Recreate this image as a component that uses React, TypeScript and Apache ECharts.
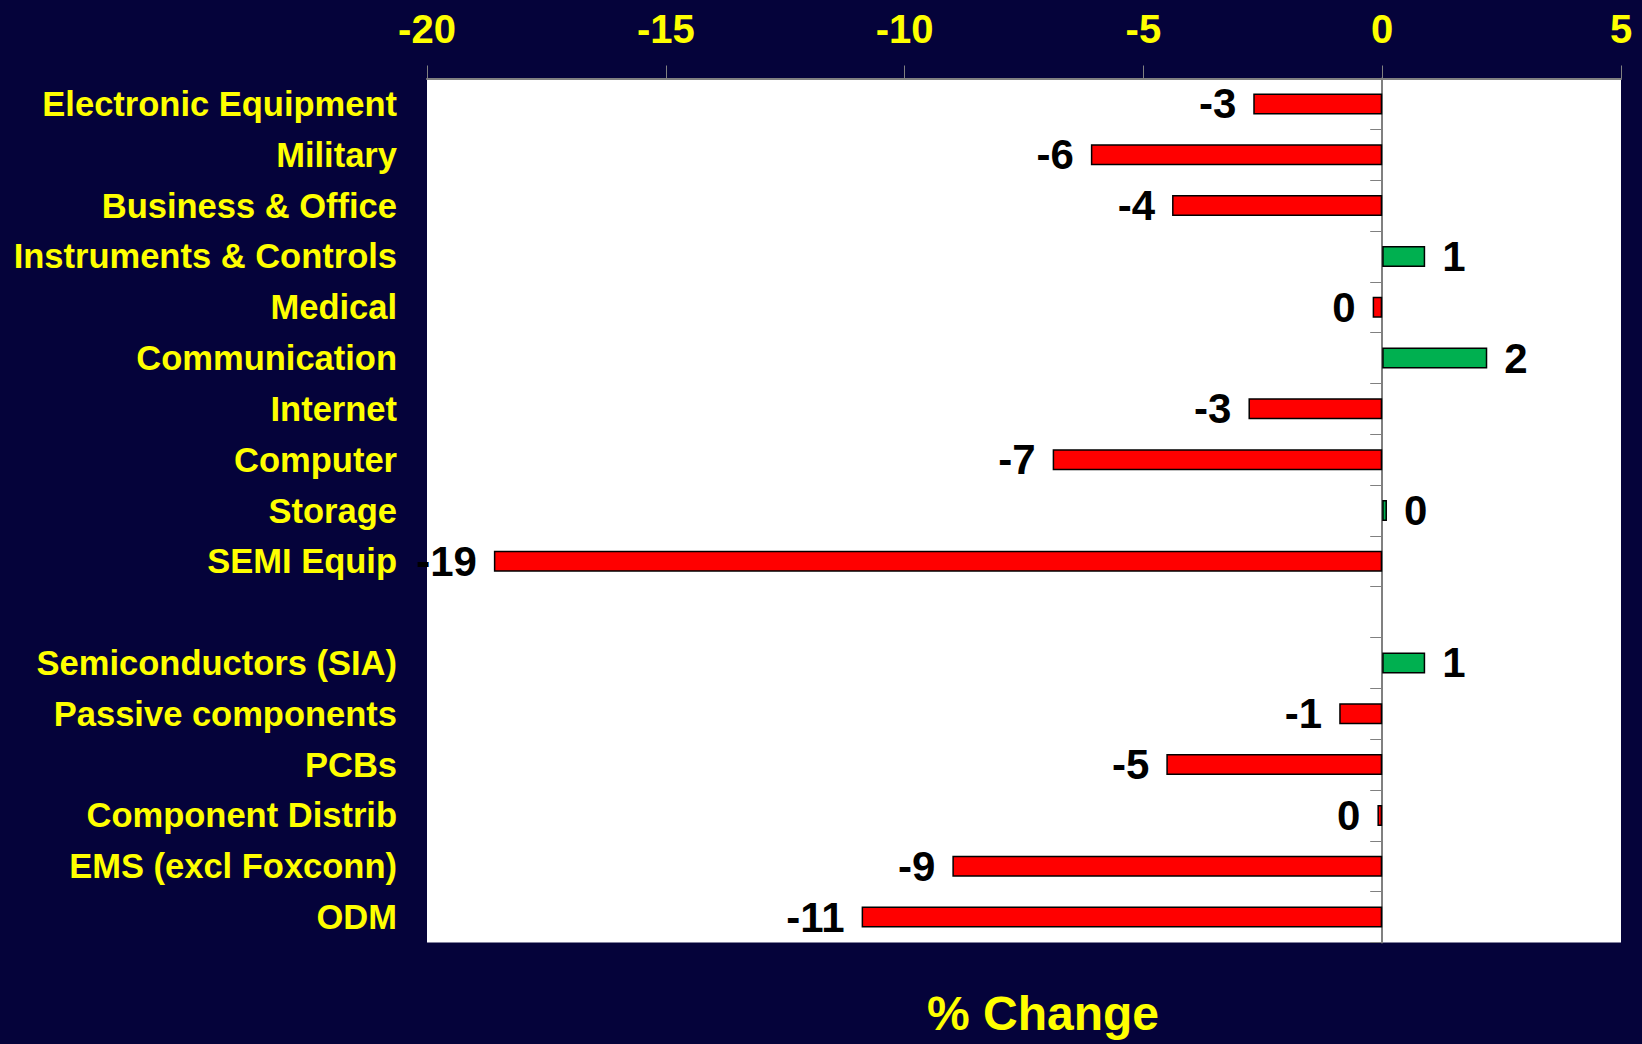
import React, { useEffect, useRef } from "react";
import * as echarts from "echarts";

const categories = [
  "Electronic Equipment",
  "Military",
  "Business & Office",
  "Instruments & Controls",
  "Medical",
  "Communication",
  "Internet",
  "Computer",
  "Storage",
  "SEMI Equip",
  "",
  "Semiconductors (SIA)",
  "Passive components",
  "PCBs",
  "Component Distrib",
  "EMS (excl Foxconn)",
  "ODM",
];

const changes: (number | null)[] = [
  -2.7, -6.1, -4.4, 0.9, -0.2, 2.2, -2.8, -6.9, 0.1, -18.6, null, 0.9, -0.9, -4.52, -0.1, -9.0, -10.9,
];

const xTicks = [-20, -15, -10, -5, 0, 5];

const BG = "#05033a";
const YELLOW = "#ffff00";
const FONT = "'Liberation Sans', Arial, sans-serif";

export default function App() {
  const ref = useRef<HTMLDivElement>(null);
  useEffect(() => {
    if (!ref.current) return;
    const chart = echarts.init(ref.current, null, { renderer: "svg" });
    const data = changes.map((v) =>
      v === null
        ? { value: null }
        : {
            value: v,
            itemStyle: { color: v >= 0 ? "#00b050" : "#ff0000" },
            label: { position: v >= 0 ? "right" : "left" },
          }
    );
    chart.setOption({
      animation: false,
      backgroundColor: BG,
      grid: {
        left: 427,
        right: 21,
        top: 78.5,
        bottom: 101.5,
        show: true,
        backgroundColor: "#ffffff",
        borderWidth: 0,
      },
      xAxis: {
        type: "value",
        position: "top",
        min: xTicks[0],
        max: xTicks[xTicks.length - 1],
        interval: 5,
        splitLine: { show: false },
        axisLine: { show: true, lineStyle: { color: "#808080", width: 2 } },
        axisTick: { show: true, length: 13, lineStyle: { color: "#808080", width: 1 } },
        axisLabel: {
          color: YELLOW,
          fontWeight: "bold",
          fontSize: 40,
          fontFamily: FONT,
          margin: 30,
        },
      },
      yAxis: [
        {
          type: "category",
          data: categories,
          inverse: true,
          axisLine: { show: true, onZero: true, lineStyle: { color: "#808080", width: 2 } },
          axisTick: { show: true, length: 12, lineStyle: { color: "#808080", width: 1 } },
          axisLabel: { show: false },
          splitLine: { show: false },
        },
        {
          type: "category",
          data: categories,
          inverse: true,
          position: "left",
          axisLine: { show: false, onZero: false },
          axisTick: { show: false },
          axisLabel: {
            color: YELLOW,
            fontWeight: "bold",
            fontSize: 34.5,
            fontFamily: FONT,
            margin: 30,
          },
          splitLine: { show: false },
        },
      ],
      series: [
        {
          type: "bar",
          yAxisIndex: 0,
          data,
          barWidth: 21,
          itemStyle: { borderColor: "#000000", borderWidth: 1.5 },
          label: {
            show: true,
            color: "#000000",
            fontWeight: "bold",
            fontSize: 42,
            fontFamily: FONT,
            distance: 17,
            formatter: (p: any) => String(Math.round(p.value)),
          },
        },
      ],
      graphic: [
        {
          type: "text",
          left: 1042 - 115,
          top: 989,
          style: {
            text: "% Change",
            fill: YELLOW,
            font: `bold 48px ${FONT}`,
          },
        },
      ],
    });
    return () => chart.dispose();
  }, []);
  return <div ref={ref} style={{ width: 1642, height: 1044, position: "absolute", left: 0, top: 0 }} />;
}
